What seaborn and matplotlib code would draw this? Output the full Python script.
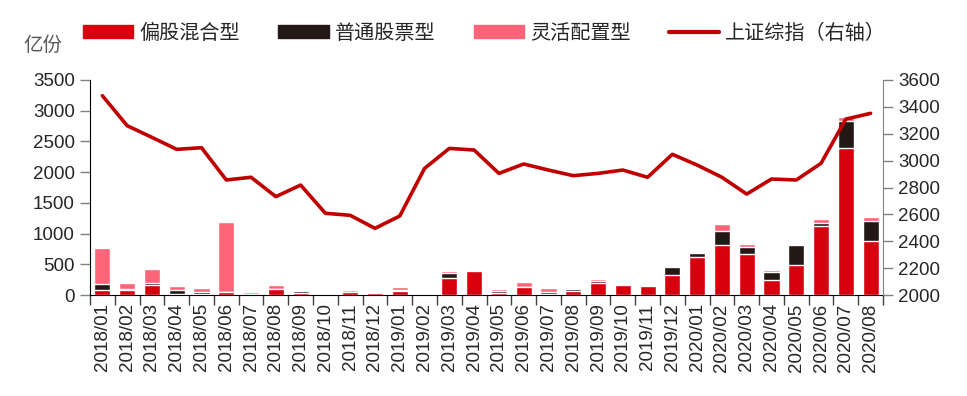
import numpy as np
import matplotlib
matplotlib.use("Agg")
import matplotlib.pyplot as plt
import seaborn as sns
from matplotlib.patches import Patch
from matplotlib.lines import Line2D

months = [f"{y}/{m:02d}" for y in (2018, 2019) for m in range(1, 13)] + \
         [f"2020/{m:02d}" for m in range(1, 9)]

# 偏股混合型 (亿份)
mixed = [80, 80, 165, 20, 20, 50, 10, 100, 40, 5, 45, 35,
         60, 5, 270, 395, 40, 125, 15, 70, 200, 165, 150, 320,
         615, 810, 675, 240, 485, 1125, 2400, 885]
# 普通股票型
stock = [98, 15, 30, 60, 30, 5, 10, 5, 20, 5, 10, 5,
         25, 10, 85, 5, 25, 5, 40, 20, 30, 10, 5, 135,
         75, 230, 100, 140, 335, 55, 440, 315]
# 灵活配置型
flexible = [580, 105, 230, 60, 65, 1130, 25, 50, 15, 25, 30, 5,
            40, 3, 40, 25, 25, 85, 65, 5, 30, 15, 20, 25,
            10, 115, 60, 20, 10, 55, 55, 65]
# 上证综指
sh_index = [3483, 3260, 3173, 3084, 3096, 2856, 2876, 2732, 2818, 2608, 2593, 2496,
            2588, 2942, 3091, 3079, 2905, 2975, 2930, 2888, 2905, 2930, 2876, 3047,
            2967, 2876, 2751, 2863, 2856, 2980, 3309, 3352]

RED = "#D7000F"
BLACK = "#231815"
PINK = "#FF6478"
LINE = "#C00000"

sns.set_style("white")
plt.rcParams["font.family"] = ["Liberation Sans", "Noto Sans CJK SC", "DejaVu Sans"]

fig = plt.figure(figsize=(9.67, 3.96), dpi=100)
ax = fig.add_axes([90 / 967, 1 - 295 / 396, (883 - 90) / 967, (295 - 80) / 396])

mixed = np.array(mixed)
stock = np.array(stock)
flexible = np.array(flexible)

# 叠加画法: 先画总高, 再依次覆盖
sns.barplot(x=months, y=mixed + stock + flexible, color=PINK, saturation=1,
            width=0.65, errorbar=None, ax=ax)
sns.barplot(x=months, y=mixed + stock, color=BLACK, saturation=1,
            width=0.65, errorbar=None, ax=ax)
sns.barplot(x=months, y=mixed, color=RED, saturation=1,
            width=0.65, errorbar=None, ax=ax)

ax2 = ax.twinx()
sns.lineplot(x=np.arange(len(months)), y=sh_index, color=LINE, linewidth=2.6,
             sort=False, ax=ax2)

ax.set_xlim(-0.5, len(months) - 0.5)
ax.set_ylim(0, 3500)
ax.set_yticks(np.arange(0, 3501, 500))
ax2.set_ylim(2000, 3600)
ax2.set_yticks(np.arange(2000, 3601, 200))

ax.set_xlabel("")
ax.set_ylabel("")
ax2.set_ylabel("")

ax.set_xticks(np.arange(len(months)))
ax.set_xticklabels(months, rotation=90, fontsize=13.5)
ax.set_xticks(np.arange(len(months) + 1) - 0.5, minor=True)
ax.tick_params(axis="x", which="major", length=0, pad=6)
ax.tick_params(axis="x", which="minor", length=7, width=1, color="#404040", direction="out")
ax.tick_params(axis="y", length=7, width=1, color="#808080", labelsize=13.5, direction="out", pad=4)
ax2.tick_params(axis="y", length=7, width=1, color="#808080", labelsize=13.5, direction="out", pad=4)
ax.tick_params(axis="x", which="both", bottom=True)

for a in (ax, ax2):
    a.spines["top"].set_visible(False)
    a.grid(False)
ax.spines["left"].set_color("#000000")
ax.spines["bottom"].set_color("#000000")
ax.spines["right"].set_visible(False)
ax2.spines["left"].set_visible(False)
ax2.spines["bottom"].set_visible(False)
ax2.spines["right"].set_color("#808080")

handles = [Patch(color=RED, label="偏股混合型"),
           Patch(color=BLACK, label="普通股票型"),
           Patch(color=PINK, label="灵活配置型"),
           Line2D([0], [0], color=LINE, linewidth=3, label="上证综指（右轴）")]
fig.legend(handles=handles, loc="center left", bbox_to_anchor=(83 / 967, 1 - 33 / 396),
           ncol=4, frameon=False, fontsize=14.5, handlelength=2.5, handleheight=0.55,
           handletextpad=0.3, columnspacing=1.9, borderpad=0, borderaxespad=0)

fig.text(23 / 967, 1 - 46 / 396, "亿份", fontsize=14, color="#595959", va="center", ha="left")

fig.savefig("out.png", dpi=100)
